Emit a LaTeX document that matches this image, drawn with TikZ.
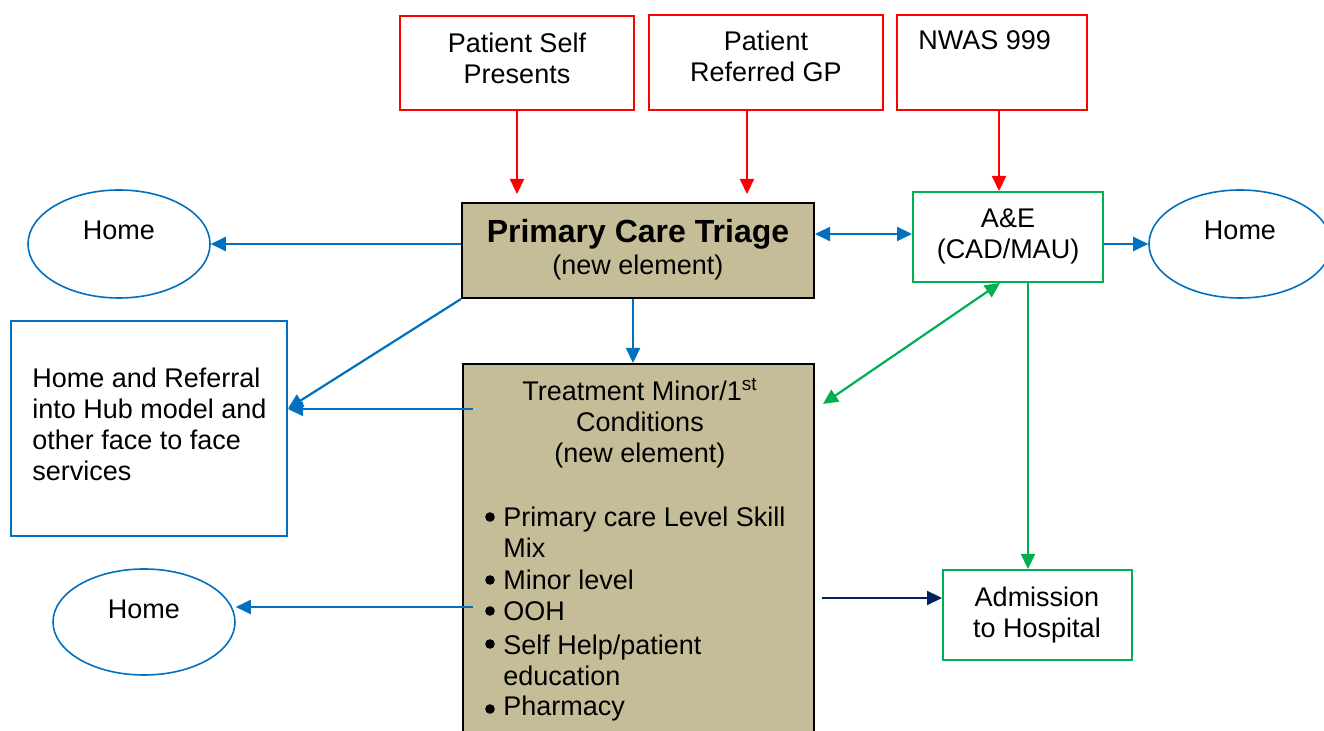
\documentclass[tikz,border=0pt]{standalone}
\usepackage{fontspec}
\setmainfont{Liberation Sans}
\usetikzlibrary{arrows.meta,shapes.geometric}
\definecolor{tanfill}{HTML}{C4BD97}
\definecolor{myred}{HTML}{FF0000}
\definecolor{myblue}{HTML}{0070C0}
\definecolor{mygreen}{HTML}{00B050}
\definecolor{mynavy}{HTML}{002060}
\tikzset{
  box/.style={draw, rectangle, inner sep=0pt, line width=1pt},
  redbox/.style={box, draw=myred},
  greenbox/.style={box, draw=mygreen},
  bluebox/.style={box, draw=myblue},
  tanbox/.style={box, draw=black, fill=tanfill},
  homeell/.style={draw=myblue, ellipse, inner sep=0pt, line width=0.8pt, minimum width=91pt, minimum height=54pt},
  txt/.style={inner sep=0pt, font=\fontsize{13.5}{15.5}\selectfont},
  arr/.style={line width=1.1pt, -{Triangle[length=7.5pt,width=7pt]}},
  darr/.style={line width=1.1pt, {Triangle[length=7.5pt,width=7pt]}-{Triangle[length=7.5pt,width=7pt]}},
}
\begin{document}
\begin{tikzpicture}[x=0.5pt,y=-0.5pt]
\useasboundingbox (0,0) rectangle (1324,731);

% boxes
\node[redbox, minimum width=117pt, minimum height=47pt] (ps) at (517,63) {};
\node[redbox, minimum width=117pt, minimum height=47.5pt] (gp) at (766,62.5) {};
\node[redbox, minimum width=95pt, minimum height=47.5pt] (nwas) at (992,62.5) {};
\node[tanbox, minimum width=176pt, minimum height=47.5pt] (pct) at (638,250.5) {};
\node[greenbox, minimum width=95pt, minimum height=45pt] (ae) at (1008,237) {};
\node[homeell] (home1) at (119,244) {};
\node[homeell] (home2) at (1240,244) {};
\node[bluebox, minimum width=138pt, minimum height=107.5pt] (hub) at (149,428.5) {};
\node[tanbox, minimum width=175.5pt, minimum height=196pt] (treat) at (638.5,560) {};
\node[greenbox, minimum width=94.5pt, minimum height=45pt] (adm) at (1037.5,615) {};
\node[homeell, minimum height=53pt] (home3) at (144,622) {};

% texts
\node[txt, align=center] (tps) at (517,58) {Patient Self\\Presents};
\node[txt, align=center] (tgp) at (766,56.5) {Patient\\Referred GP};
\node[txt, anchor=west] (tnwas) at (918,40) {NWAS 999};
\node[inner sep=0pt, font=\bfseries\fontsize{16}{18}\selectfont] (tpct1) at (638,234) {Primary Care Triage};
\node[txt] (tpct2) at (638,268) {(new element)};
\node[txt, align=center] (tae) at (1008,236.5) {A\&E\\(CAD/MAU)};
\node[txt] (th1) at (119,230) {Home};
\node[txt] (th2) at (1240,230) {Home};
\node[txt] (th3) at (144,609) {Home};
\node[txt, align=left, anchor=west] (thub) at (32,424) {Home and Referral\\into Hub model and\\other face to face\\services};
\node[txt, align=center] (tadm) at (1037,615.5) {Admission\\to Hospital};
\node[txt, align=center] (ttr) at (640,423) {Treatment Minor/1\textsuperscript{st}\\Conditions\\(new element)};

% bullet list
\node[txt, align=left, anchor=west] (b1) at (503,532) {Primary care Level Skill\\Mix};
\node[txt, anchor=west] (b2) at (503,580) {Minor level};
\node[txt, anchor=west] (b3) at (503,611) {OOH};
\node[txt, align=left, anchor=west] (b4) at (503,660) {Self Help/patient\\education};
\node[txt, anchor=west] (b5) at (503,709) {Pharmacy};
\foreach \y [count=\i] in {517,580,611,644,709}
  \fill (490,\y) circle (2.4pt);

% coordinates for free ends
\coordinate (t1) at (473,409);
\coordinate (t2) at (473,607);
\coordinate (g1) at (823,404);
\coordinate (n1) at (822,598);

% red arrows
\draw[arr, myred] (ps.south) -- ([yshift=4pt]ps.south |- pct.north);
\draw[arr, myred] ([xshift=-9.5pt]gp.south) -- ([xshift=-9.5pt,yshift=4pt]gp.south |- pct.north);
\draw[arr, myred] ([xshift=3.5pt]nwas.south) -- ([xshift=3.5pt]nwas.south |- ae.north);

% blue arrows
\draw[arr, myblue] (pct.west |- home1.east) -- (home1.east);
\draw[darr, myblue] (pct.east |- 0,234) -- (ae.west |- 0,234);
\draw[arr, myblue] (ae.east |- home2.west) -- (home2.west);
\draw[arr, myblue] ([xshift=-2.5pt]pct.south) -- ([xshift=-2.5pt]pct.south |- treat.north);
\draw[arr, myblue] (pct.south west) -- ([yshift=10pt]hub.east);
\draw[arr, myblue] (t1) -- (t1 -| hub.east);
\draw[arr, myblue] (t2) -- (t2 -| home3.east);

% green arrows
\draw[darr, mygreen] (g1) -- ([xshift=-4pt]ae.south);
\draw[arr, mygreen] ([xshift=10pt]ae.south) -- ([xshift=10pt]ae.south |- adm.north);

% navy arrow
\draw[arr, mynavy] (n1) -- (n1 -| adm.west);
\end{tikzpicture}
\end{document}
